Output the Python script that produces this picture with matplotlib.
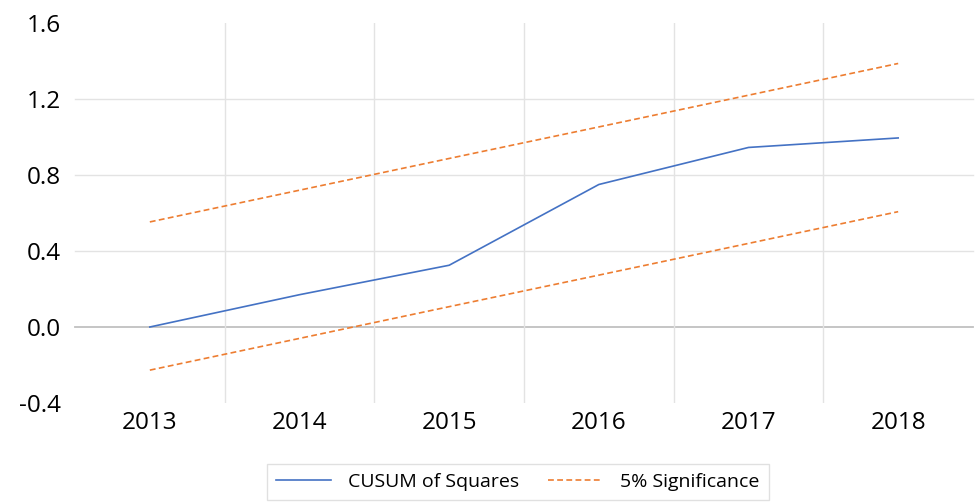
import numpy as np
import matplotlib
matplotlib.use("Agg")
import matplotlib.pyplot as plt

years = ["2013", "2014", "2015", "2016", "2017", "2018"]
cusum = [0.0, 0.17, 0.325, 0.75, 0.945, 0.995]
upper = [0.553, 0.72, 0.887, 1.053, 1.22, 1.387]
lower = [-0.227, -0.06, 0.107, 0.273, 0.44, 0.607]
yticks = [-0.4, 0.0, 0.4, 0.8, 1.2, 1.6]

BLUE, ORANGE = "#4472C4", "#ED7D31"
GRID, ZERO = "#e3e3e3", "#c0c0c0"
FONT = ["Open Sans", "DejaVu Sans"]

W, H, DPI = 976, 503, 100
fig = plt.figure(figsize=(W / DPI, H / DPI), dpi=DPI)
ax = fig.add_axes([75 / W, 1 - 403 / H, 898 / W, 380 / H])

x = np.arange(len(years))
ax.set_xlim(-0.5, len(years) - 0.5)
ax.set_ylim(yticks[0], yticks[-1])

# gridlines: horizontal inside the range, vertical between categories
for yv in yticks[1:-1]:
    ax.axhline(yv, color=ZERO if yv == 0 else GRID, lw=1.3 if yv == 0 else 1.0,
               zorder=1, clip_on=False)
for xv in x[:-1] + 0.5:
    ax.axvline(xv, color=GRID, lw=1.0, zorder=1)

ax.plot(x, cusum, color=BLUE, lw=1.2, zorder=3, label="CUSUM of Squares")
ax.plot(x, upper, color=ORANGE, lw=1.2, dashes=(3.5, 2), zorder=3,
        label="5% Significance")
ax.plot(x, lower, color=ORANGE, lw=1.2, dashes=(3.5, 2), zorder=3)

ax.set_xticks(x)
ax.set_xticklabels(years, fontsize=17.5, family=FONT)
ax.set_yticks(yticks)
ax.set_yticklabels([f"{v:.1f}" for v in yticks], fontsize=17.5, family=FONT)
ax.tick_params(length=0)
ax.tick_params(axis="x", pad=6)
ax.tick_params(axis="y", pad=10)
for s in ax.spines.values():
    s.set_visible(False)

leg = fig.legend(loc="upper center", bbox_to_anchor=(518 / W, 1 - 464 / H),
                 ncol=2, frameon=True, fancybox=False,
                 handlelength=2.8, handletextpad=0.9, columnspacing=1.5,
                 borderpad=0.45, borderaxespad=0,
                 prop={"family": FONT, "size": 14})
leg.get_frame().set_edgecolor("#d9d9d9")
leg.get_frame().set_linewidth(1.0)

fig.savefig("out.png", dpi=DPI)
